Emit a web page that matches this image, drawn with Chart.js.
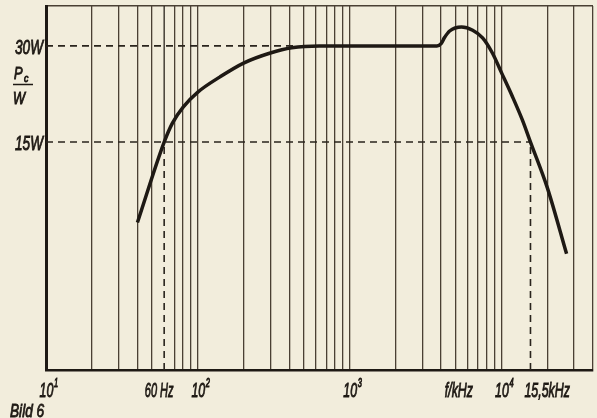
<!DOCTYPE html>
<html>
<head>
<meta charset="utf-8">
<script src="https://cdn.jsdelivr.net/npm/chart.js@4/dist/chart.umd.min.js"></script>
<style>
  html, body { margin: 0; padding: 0; background: #f2eddc; }
</style>
</head>
<body>
<canvas id="bild6" width="597" height="418"></canvas>
<script>
// Ausgangsleistung über der Frequenz (Bild 6)
const frequenzen = [40, 60, 68, 80, 100, 140, 200, 300, 415, 630, 1000, 2000, 3750, 4000, 4200, 4550, 5450, 6450, 7500, 8700, 10000, 11800, 13700, 15500, 20000, 26800];
const leistung = [8.4, 15, 17.2, 19.3, 21.5, 24, 26.5, 28.5, 29.6, 30, 30, 30, 30, 30.5, 31.8, 33.4, 34.4, 33.6, 31.8, 28.5, 24.7, 20.8, 17.6, 15, 10.8, 6.7];

// senkrechte Gitterlinien, 1...9 je Dekade
const gitterX = [10, 20, 30, 40, 50, 60, 70, 80, 90,
  100, 200, 300, 400, 500, 600, 700, 800, 900,
  1000, 2000, 3000, 4000, 5000, 6000, 7000, 8000, 9000,
  10000, 20000, 30000, 40000];

// Achsenbereich
const xMin = 10, xMax = 40000;
const yMin = 2.9, yMax = 40;

// Hilfslinien: 30 W bis zum Kurvenanfang, 15 W bis 15,5 kHz, Grenzfrequenzen
const nennLeistung = 30, nennEnde = 430;
const halbeLeistung = 15;
const grenzFrequenzen = [60, 15500];

// Beschriftungen
const xBeschriftungWerte = [10, 60, 100, 1000, 5000, 10000, 15500];
const xBeschriftungen = ['10¹', '60 Hz', '10²', '10³', 'f/kHz', '10⁴', '15,5kHz'];
const yBeschriftungWerte = [30, 15];
const yBeschriftungen = ['30W', '15W'];

const tinte = '#1e1914';
const gitter = '#4a4034';
const papier = '#f2eddc';
const hoch = { '¹': '1', '²': '2', '³': '3', '⁴': '4' };

// Text schmal und kursiv, Hochzahlen kleiner und angehoben
function schreibe(c, text, x, y, groesse, schmal, align) {
  let basis = '', exp = '';
  for (const z of text) { if (hoch[z]) exp += hoch[z]; else basis += z; }
  c.font = `italic ${groesse}px 'Liberation Sans'`;
  const wb = c.measureText(basis).width * schmal;
  c.font = `italic ${Math.round(groesse * 0.6)}px 'Liberation Sans'`;
  const we = exp ? c.measureText(exp).width * schmal + 1 : 0;
  const w = wb + we;
  let x0 = x;
  if (align === 'center') x0 = x - w / 2;
  else if (align === 'right') x0 = x - w;
  c.save();
  c.translate(x0, y);
  c.scale(schmal, 1);
  c.textAlign = 'left';
  c.textBaseline = 'alphabetic';
  c.strokeStyle = tinte;
  c.lineWidth = 0.9;
  c.font = `italic ${groesse}px 'Liberation Sans'`;
  c.fillText(basis, 0, 0);
  c.strokeText(basis, 0, 0);
  if (exp) {
    c.font = `italic ${Math.round(groesse * 0.6)}px 'Liberation Sans'`;
    c.fillText(exp, wb / schmal + 1, -groesse * 0.5);
    c.strokeText(exp, wb / schmal + 1, -groesse * 0.5);
  }
  c.restore();
}

const hintergrund = {
  id: 'hintergrund',
  beforeDraw(chart) {
    const c = chart.ctx;
    c.save();
    c.fillStyle = papier;
    c.fillRect(0, 0, chart.width, chart.height);
    c.restore();
  }
};

const beschriftung = {
  id: 'beschriftung',
  afterDraw(chart) {
    const c = chart.ctx;
    const sx = chart.scales.x, sy = chart.scales.y;
    c.save();
    c.fillStyle = tinte;
    const yText = chart.chartArea.bottom + 27;
    xBeschriftungWerte.forEach((v, i) => {
      const px = sx.getPixelForValue(v);
      if (v === 15500) schreibe(c, xBeschriftungen[i], px - 6, yText, 20, 0.62, 'left');
      else if (v === 60) schreibe(c, xBeschriftungen[i], px - 5, yText, 20, 0.55, 'center');
      else schreibe(c, xBeschriftungen[i], px + 3, yText, 20, 0.62, 'center');
    });
    yBeschriftungWerte.forEach((v, i) => {
      const py = sy.getPixelForValue(v);
      schreibe(c, yBeschriftungen[i], chart.chartArea.left - 3, py + 8, 20, 0.68, 'right');
    });
    // Achsentitel P_c / W als Bruch
    schreibe(c, 'P', 14, 79, 16, 0.8, 'left');
    schreibe(c, 'c', 24, 82, 11, 0.8, 'left');
    c.strokeStyle = tinte;
    c.lineWidth = 1.5;
    c.beginPath();
    c.moveTo(13, 84.5);
    c.lineTo(33, 84.5);
    c.stroke();
    schreibe(c, 'W', 13, 104, 16, 0.8, 'left');
    schreibe(c, 'Bild 6', 10, 417, 19, 0.72, 'left');
    c.restore();
  }
};

function strich(punkte, gestrichelt) {
  return {
    data: punkte,
    borderColor: '#2a241d',
    borderWidth: gestrichelt ? 1.6 : 1.3,
    borderDash: gestrichelt ? [7, 5] : [],
    pointRadius: 0,
    tension: 0,
    order: 2
  };
}

const kurve = frequenzen.map((f, i) => ({ x: f, y: leistung[i] }));

const datasets = [
  {
    data: kurve,
    borderColor: tinte,
    borderWidth: 3.5,
    pointRadius: 0,
    cubicInterpolationMode: 'monotone',
    order: 0
  },
  strich([{ x: xMin, y: nennLeistung }, { x: nennEnde, y: nennLeistung }], true),
  strich([{ x: xMin, y: halbeLeistung }, { x: grenzFrequenzen[1], y: halbeLeistung }], true),
  strich([{ x: grenzFrequenzen[0], y: yMin }, { x: grenzFrequenzen[0], y: halbeLeistung }], true),
  strich([{ x: grenzFrequenzen[0], y: halbeLeistung }, { x: grenzFrequenzen[0], y: yMax }], false),
  strich([{ x: grenzFrequenzen[1], y: yMin }, { x: grenzFrequenzen[1], y: halbeLeistung }], true)
];

new Chart(document.getElementById('bild6'), {
  type: 'line',
  data: { datasets: datasets },
  plugins: [hintergrund, beschriftung],
  options: {
    responsive: false,
    devicePixelRatio: 1,
    animation: false,
    layout: { padding: { left: 46, right: 4, top: 6, bottom: 48 } },
    plugins: { legend: { display: false }, tooltip: { enabled: false } },
    scales: {
      x: {
        type: 'logarithmic',
        min: xMin,
        max: xMax,
        bounds: 'data',
        afterBuildTicks: (s) => { s.ticks = gitterX.map(v => ({ value: v })); },
        ticks: { display: false },
        grid: {
          drawTicks: false,
          lineWidth: 1.3,
          // bei 60 Hz ist die Linie unten gestrichelt
          color: (ctx) => (ctx.tick && ctx.tick.value === 60) ? 'rgba(0,0,0,0)' : gitter
        },
        border: { display: true, color: tinte, width: 2.5 }
      },
      y: {
        type: 'logarithmic',
        min: yMin,
        max: yMax,
        bounds: 'data',
        afterBuildTicks: (s) => { s.ticks = [{ value: yMax }]; },
        ticks: { display: false },
        grid: { drawTicks: false, lineWidth: 1.6, color: gitter },
        border: { display: true, color: tinte, width: 3 }
      }
    }
  }
});
</script>
</body>
</html>
